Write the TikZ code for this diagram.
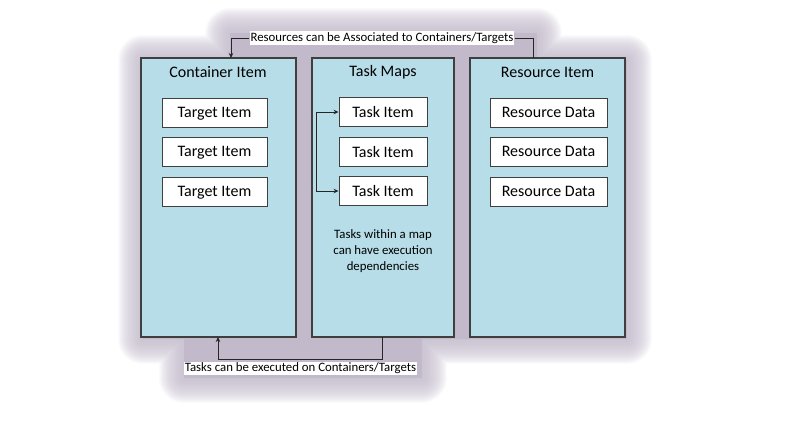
\documentclass[tikz,border=0pt]{standalone}
\usepackage{fontspec}
\setmainfont{Carlito}
\usetikzlibrary{arrows.meta}

\definecolor{panelblue}{HTML}{B7DDE8}
\definecolor{glowpurple}{HTML}{C2BACB}
\definecolor{edgegray}{HTML}{3F3F3F}

% outline of the whole group, used for the soft glow behind it
\newcommand{\haloshape}{(230,33) -- (537,33) -- (537,60) -- (627,60) -- (627,339)
  -- (422,339) -- (422,378) -- (184,378) -- (184,339) -- (143,339) -- (143,60)
  -- (230,60) -- cycle}

\tikzset{
  panel/.style={draw=edgegray, line width=1.1pt, fill=panelblue, minimum height=279pt, inner sep=0pt},
  item/.style={draw=edgegray, line width=0.9pt, fill=white, minimum height=29pt, inner sep=0pt,
    text depth=0pt, font=\fontsize{16}{18}\selectfont},
  title/.style={font=\fontsize{16}{18}\selectfont},
  note/.style={align=center, font=\fontsize{12.8}{16}\selectfont},
  callout/.style={fill=white, inner sep=1pt, font=\fontsize{12.8}{14}\selectfont},
  link/.style={draw=black!85, line width=0.9pt},
  tip/.style={-{Stealth[length=5pt,width=4.5pt]}},
}

\begin{document}
\begin{tikzpicture}[x=1pt, y=-1pt]
  \useasboundingbox (0,0) rectangle (785,426);

  % Glow
  \foreach \w in {50,48,...,2}
    \draw[glowpurple, line width=\w pt, opacity=0.07, line join=round] \haloshape;
  \fill[glowpurple] \haloshape;

  % Panels
  \node[panel, minimum width=155pt] (cont) at (218.5,197.5) {};
  \node[panel, minimum width=142pt] (tmap) at (383,197.5) {};
  \node[panel, minimum width=155pt] (res) at (547.5,197.5) {};

  \node[title] (contTitle) at (218,72) {Container Item};
  \node[title] (tmapTitle) at (383,72) {Task Maps};
  \node[title] (resTitle) at (547.5,72) {Resource Item};

  % Items inside the panels
  \node[item, minimum width=105pt] (tgt1) at (214.5,112.5) {Target Item};
  \node[item, minimum width=105pt] (tgt2) at (214.5,151.5) {Target Item};
  \node[item, minimum width=105pt] (tgt3) at (214.5,191.5) {Target Item};

  \node[item, minimum width=88pt] (task1) at (383,112) {Task Item};
  \node[item, minimum width=88pt] (task2) at (383,151.5) {Task Item};
  \node[item, minimum width=88pt] (task3) at (383,191) {Task Item};

  \node[item, minimum width=117pt] (rdat1) at (548.5,112.5) {Resource Data};
  \node[item, minimum width=117pt] (rdat2) at (548.5,151.5) {Resource Data};
  \node[item, minimum width=117pt] (rdat3) at (548.5,191.5) {Resource Data};

  \node[note] (depNote) at (383,251) {Tasks within a map\\can have execution\\dependencies};

  % Dependency between tasks
  \draw[link, {Stealth[length=5pt,width=4.5pt]}-{Stealth[length=5pt,width=4.5pt]}]
    (task1.west) -- ++(-22,0) |- (task3.west);

  % Resources -> containers
  \coordinate (resTop) at (533,58);
  \coordinate (contTop) at (231,58);
  \node[callout] (assoc) at (382,38) {Resources can be Associated to Containers/Targets};
  \draw[link] (resTop) |- (assoc.east);
  \draw[link, tip] (assoc.west) -| (contTop);

  % Tasks -> containers
  \coordinate (tmapBot) at (382,337);
  \coordinate (contBot) at (218,337);
  \draw[link, tip] (tmapBot) -- ++(0,22) -| (contBot);
  \node[callout] (exec) at (300.5,368.5) {Tasks can be executed on Containers/Targets};
\end{tikzpicture}
\end{document}
